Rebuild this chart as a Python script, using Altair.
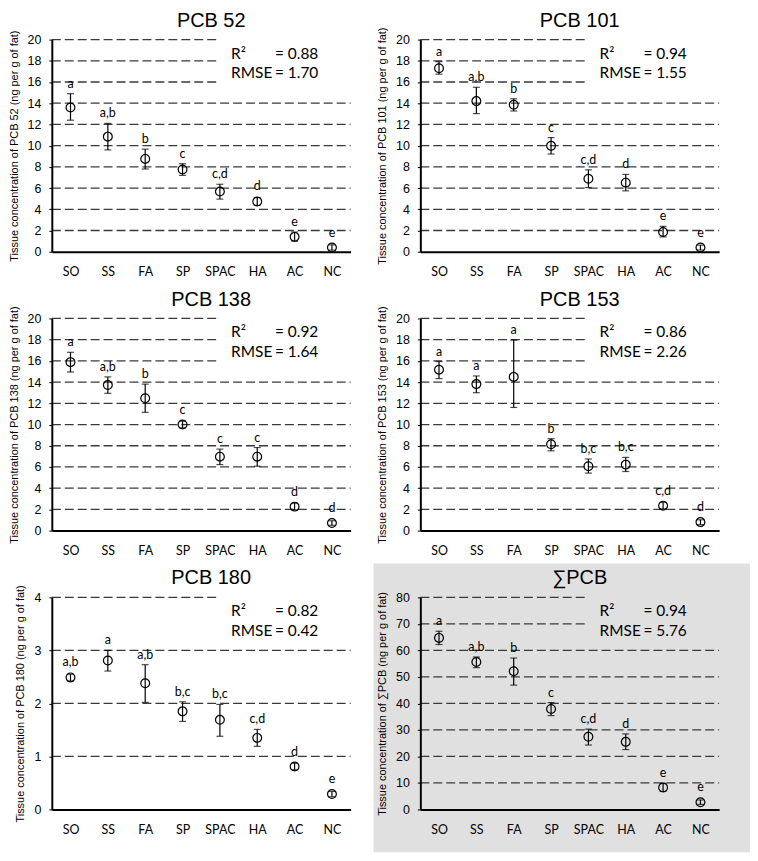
import altair as alt
import pandas as pd

categories = ["SO", "SS", "FA", "SP", "SPAC", "HA", "AC", "NC"]

titles = ["PCB 52", "PCB 101", "PCB 138", "PCB 153", "PCB 180", "∑PCB"]
y_titles = [
    "Tissue concentration of PCB 52 (ng per g of fat)",
    "Tissue concentration of PCB 101 (ng per g of fat)",
    "Tissue concentration of PCB 138 (ng per g of fat)",
    "Tissue concentration of PCB 153 (ng per g of fat)",
    "Tissue concentration of PCB 180 (ng per g of fat)",
    "Tissue concentration of ∑PCB (ng per g of fat)",
]
y_max = [20, 20, 20, 20, 4, 80]
y_step = [2, 2, 2, 2, 1, 10]
r2_values = ["0.88", "0.94", "0.92", "0.86", "0.82", "0.94"]
rmse_values = ["1.70", "1.55", "1.64", "2.26", "0.42", "5.76"]

pcb52_mean = [13.6, 10.85, 8.75, 7.75, 5.67, 4.74, 1.40, 0.40]
pcb52_low = [12.4, 9.6, 7.8, 7.2, 4.96, 4.37, 1.0, 0.15]
pcb52_high = [14.9, 12.1, 9.67, 8.3, 6.36, 5.1, 1.86, 0.65]
pcb52_letters = ["a", "a,b", "b", "c", "c,d", "d", "e", "e"]

pcb101_mean = [17.3, 14.2, 13.86, 9.98, 6.88, 6.51, 1.86, 0.40]
pcb101_low = [16.74, 13.02, 13.27, 9.21, 6.05, 5.74, 1.40, 0.16]
pcb101_high = [17.92, 15.5, 14.42, 10.76, 7.72, 7.29, 2.39, 0.62]
pcb101_letters = ["a", "a,b", "b", "c", "c,d", "d", "e", "e"]

pcb138_mean = [15.88, 13.72, 12.48, 10.0, 6.97, 6.97, 2.26, 0.71]
pcb138_low = [14.95, 12.94, 11.15, 9.69, 6.22, 6.07, 1.95, 0.5]
pcb138_high = [16.81, 14.49, 13.81, 10.31, 7.68, 7.83, 2.57, 0.93]
pcb138_letters = ["a", "a,b", "b", "c", "c", "c", "d", "d"]

pcb153_mean = [15.17, 13.81, 14.49, 8.14, 6.07, 6.22, 2.35, 0.80]
pcb153_low = [14.33, 13.0, 11.61, 7.52, 5.42, 5.57, 2.04, 0.56]
pcb153_high = [15.94, 14.58, 17.96, 8.67, 6.75, 6.9, 2.66, 1.02]
pcb153_letters = ["a", "a", "a", "b", "b,c", "b,c", "c,d", "d"]

pcb180_mean = [2.49, 2.81, 2.38, 1.85, 1.69, 1.35, 0.81, 0.29]
pcb180_low = [2.42, 2.61, 2.02, 1.66, 1.38, 1.19, 0.75, 0.24]
pcb180_high = [2.55, 3.0, 2.73, 2.03, 1.98, 1.51, 0.87, 0.34]
pcb180_letters = ["a,b", "a", "a,b", "b,c", "b,c", "c,d", "d", "e"]

sum_mean = [64.7, 55.6, 52.1, 37.9, 27.4, 25.5, 8.3, 2.7]
sum_low = [62.2, 53.5, 46.9, 35.4, 24.3, 22.6, 6.8, 1.9]
sum_high = [67.2, 57.5, 57.1, 40.3, 30.3, 28.5, 9.8, 3.6]
sum_letters = ["a", "a,b", "b", "c", "c,d", "d", "e", "e"]

series = [
    (pcb52_mean, pcb52_low, pcb52_high, pcb52_letters),
    (pcb101_mean, pcb101_low, pcb101_high, pcb101_letters),
    (pcb138_mean, pcb138_low, pcb138_high, pcb138_letters),
    (pcb153_mean, pcb153_low, pcb153_high, pcb153_letters),
    (pcb180_mean, pcb180_low, pcb180_high, pcb180_letters),
    (sum_mean, sum_low, sum_high, sum_letters),
]

W, H = 300, 213
GRAY = "#e0e0e0"
one = pd.DataFrame({"k": [0]})


def panel(i):
    mean, low, high, letters = series[i]
    ymax, step = y_max[i], y_step[i]
    r_data = 5.0 * ymax / H
    df = pd.DataFrame({
        "cat": categories, "mean": mean, "low": low, "high": high,
        "letter": letters,
        "lab": [max(h, m + r_data) for h, m in zip(high, mean)],
    })
    grid_df = pd.DataFrame({"g": list(range(step, ymax + step, step))})
    bg = GRAY if i == 5 else "white"

    yscale = alt.Scale(domain=[0, ymax], nice=False, zero=True)
    xscale = alt.Scale(type="point", domain=categories, padding=0.5)
    xaxis = alt.Axis(title=None, labelAngle=0, ticks=False,
                     domainColor="black", domainWidth=2,
                     labelFont="Lato", labelFontSize=12.5,
                     labelColor="black", labelPadding=14,
                     grid=False, zindex=1)
    yaxis = alt.Axis(title=y_titles[i],
                     values=list(range(0, ymax + step, step)),
                     domainColor="black", domainWidth=2,
                     tickColor="black", tickSize=3, tickWidth=1,
                     labelFont="Liberation Sans", labelFontSize=12.5,
                     labelColor="black", labelPadding=8,
                     titleFont="Liberation Sans", titleFontSize=11,
                     titleFontWeight="normal", titleColor="black",
                     titlePadding=8, titleLimit=400,
                     grid=False, zindex=1)

    def X():
        return alt.X("cat:N", scale=xscale, sort=categories, axis=xaxis, title=None)

    def Y(f):
        return alt.Y(f, scale=yscale, axis=yaxis, title=y_titles[i])

    layers = []
    if i == 5:
        layers.append(alt.Chart(one).mark_rect(color=GRAY).encode(
            x=alt.value(-47), x2=alt.value(331), y=alt.value(-34), y2=alt.value(256)))

    layers.append(alt.Chart(grid_df).mark_rule(
        color="#3a3a3a", strokeWidth=1.3, strokeDash=[9, 4]).encode(
        y=Y("g:Q"), x=alt.value(0), x2=alt.value(W)))

    layers.append(alt.Chart(one).mark_rect(color=bg).encode(
        x=alt.value(168), x2=alt.value(W + 1), y=alt.value(-3), y2=alt.value(47)))

    base = alt.Chart(df)
    layers.append(base.mark_rule(color="black", strokeWidth=1.2).encode(
        x=X(), y=Y("low:Q"), y2="high:Q"))
    layers.append(base.mark_tick(color="black", size=7, thickness=1.2, orient="horizontal").encode(
        x=X(), y=Y("low:Q")))
    layers.append(base.mark_tick(color="black", size=7, thickness=1.2, orient="horizontal").encode(
        x=X(), y=Y("high:Q")))
    layers.append(base.mark_point(shape="circle", filled=False, size=78,
                                  color="black", strokeWidth=1.2, opacity=1).encode(
        x=X(), y=Y("mean:Q")))
    layers.append(base.mark_text(font="Lato", fontSize=12.5, color="black",
                                 baseline="bottom", dy=-3).encode(
        x=X(), y=Y("lab:Q"), text="letter:N"))

    layers.append(alt.Chart(pd.DataFrame({"t": [titles[i]]})).mark_text(
        font="Liberation Sans", fontSize=20, color="black",
        align="center", baseline="middle").encode(
        x=alt.value(160), y=alt.value(-19), text="t:N"))

    stats = pd.DataFrame({
        "lbl": ["R²", "RMSE"],
        "val": ["= " + r2_values[i], "= " + rmse_values[i]],
        "ypix": [14, 34],
    })
    layers.append(alt.Chart(stats).mark_text(
        font="Lato", fontSize=15.5, color="black", align="left", baseline="middle").encode(
        x=alt.value(180), y=alt.Y("ypix:Q", scale=None, axis=None), text="lbl:N"))
    layers.append(alt.Chart(stats).mark_text(
        font="Lato", fontSize=15.5, color="black", align="left", baseline="middle").encode(
        x=alt.value(224), y=alt.Y("ypix:Q", scale=None, axis=None), text="val:N"))

    return alt.layer(*layers).properties(width=W, height=H)


chart = alt.concat(
    *[panel(i) for i in range(6)],
    columns=2,
    spacing={"row": 67, "column": 70},
    bounds="flush",
).properties(padding={"left": 0, "top": 1, "right": 0, "bottom": 0},
             background="white").configure_view(strokeWidth=0)

chart.save("out.html", embed_options={"renderer": "svg", "actions": False})
